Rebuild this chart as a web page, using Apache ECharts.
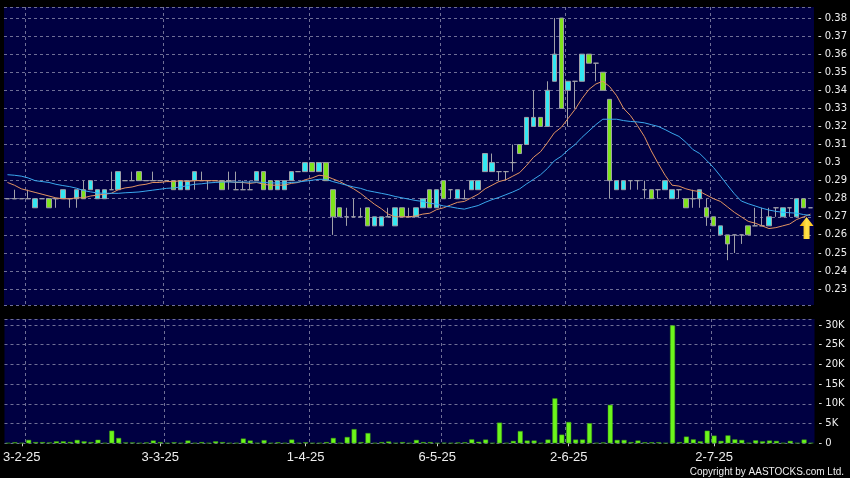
<!DOCTYPE html>
<html><head><meta charset="utf-8">
<script src="https://cdn.jsdelivr.net/npm/echarts@6/dist/echarts.min.js"></script>
<style>html,body{margin:0;padding:0;background:#000;}#c{width:850px;height:478px;}</style>
</head><body><div id="c"></div>
<script>
const categories = [
'27-1-25','28-1-25',
'3-2-25','4-2-25','5-2-25','6-2-25','7-2-25','10-2-25','11-2-25','12-2-25','13-2-25','14-2-25','17-2-25','18-2-25','19-2-25','20-2-25','21-2-25','24-2-25','25-2-25','26-2-25','27-2-25','28-2-25',
'3-3-25','4-3-25','5-3-25','6-3-25','7-3-25','10-3-25','11-3-25','12-3-25','13-3-25','14-3-25','17-3-25','18-3-25','19-3-25','20-3-25','21-3-25','24-3-25','25-3-25','26-3-25','27-3-25','28-3-25','31-3-25',
'1-4-25','2-4-25','3-4-25','7-4-25','8-4-25','9-4-25','10-4-25','11-4-25','14-4-25','15-4-25','16-4-25','17-4-25','22-4-25','23-4-25','24-4-25','25-4-25','28-4-25','29-4-25','30-4-25',
'6-5-25','7-5-25','8-5-25','9-5-25','12-5-25','13-5-25','14-5-25','15-5-25','16-5-25','19-5-25','20-5-25','21-5-25','22-5-25','23-5-25','26-5-25','27-5-25','28-5-25','29-5-25','30-5-25',
'2-6-25','3-6-25','4-6-25','5-6-25','6-6-25','9-6-25','10-6-25','11-6-25','12-6-25','13-6-25','16-6-25','17-6-25','18-6-25','19-6-25','20-6-25','23-6-25','24-6-25','25-6-25','26-6-25','27-6-25','30-6-25',
'2-7-25','3-7-25','4-7-25','7-7-25','8-7-25','9-7-25','10-7-25','11-7-25','14-7-25','15-7-25','16-7-25','17-7-25','18-7-25','21-7-25','22-7-25'
];
const opens = [
.28,.28,.28,.28,.275,.28,.28,.28,.28,.28,
.28,.285,.285,.28,.28,.285,.285,.29,.29,.295,
.29,.29,.29,.29,.29,.285,.285,.29,.29,.29,
.29,.29,.29,.285,.285,.285,.29,.295,.29,.285,
.285,.29,.295,.295,.30,.295,.30,.285,.275,.27,
.27,.27,.275,.265,.265,.27,.265,.275,.27,.27,
.275,.285,.275,.29,.285,.28,.28,.285,.285,.295,
.295,.295,.295,.30,.31,.31,.32,.325,.32,.345,
.38,.34,.345,.345,.36,.355,.35,.335,.285,.285,
.29,.29,.285,.285,.285,.285,.28,.285,.28,.28,
.28,.275,.27,.26,.26,.26,.26,.265,.265,.265,
.265,.275,.27,.275,.27,.28,.275];
const closes = [
.28,.28,.28,.28,.28,.28,.275,.28,.285,.28,
.285,.28,.29,.285,.285,.285,.295,.29,.29,.29,
.29,.29,.29,.29,.285,.29,.29,.295,.29,.29,
.29,.285,.29,.285,.285,.285,.295,.285,.285,.29,
.29,.295,.295,.30,.295,.30,.29,.27,.27,.27,
.27,.27,.265,.27,.27,.27,.275,.27,.27,.275,
.28,.275,.285,.28,.285,.285,.28,.29,.29,.305,
.30,.295,.295,.30,.305,.325,.325,.32,.34,.36,
.33,.345,.345,.36,.355,.355,.34,.29,.29,.29,
.29,.29,.285,.28,.285,.29,.285,.285,.275,.28,
.285,.27,.265,.265,.255,.26,.26,.26,.265,.265,
.27,.275,.275,.275,.28,.275,.275];
const lows = [
.28,.28,.28,.28,.275,.28,.275,.275,.28,.275,
.275,.28,.285,.28,.28,.285,.285,.29,.29,.29,
.29,.29,.29,.29,.285,.285,.285,.285,.29,.285,
.29,.285,.285,.285,.285,.285,.29,.285,.285,.285,
.285,.29,.295,.295,.295,.295,.29,.26,.27,.265,
.27,.27,.265,.265,.265,.27,.265,.27,.27,.27,
.275,.275,.275,.28,.28,.28,.28,.285,.285,.295,
.295,.29,.29,.295,.305,.31,.32,.32,.32,.345,
.33,.32,.33,.345,.355,.345,.34,.28,.285,.285,
.285,.285,.28,.28,.28,.285,.28,.28,.275,.275,
.275,.265,.265,.26,.246,.25,.255,.26,.265,.265,
.265,.27,.27,.27,.27,.275,.275];
const highs = [
.28,.285,.28,.285,.28,.28,.28,.28,.285,.28,
.285,.29,.29,.285,.285,.295,.295,.29,.295,.295,
.29,.295,.29,.29,.29,.29,.29,.295,.295,.29,
.29,.29,.295,.295,.29,.29,.295,.295,.29,.29,
.29,.295,.295,.30,.30,.30,.30,.285,.275,.275,
.28,.275,.275,.27,.27,.275,.275,.275,.275,.275,
.28,.285,.285,.29,.285,.285,.285,.29,.29,.305,
.305,.295,.295,.31,.31,.325,.34,.325,.345,.38,
.38,.345,.345,.36,.36,.355,.35,.335,.29,.29,
.29,.29,.29,.285,.285,.29,.285,.285,.28,.285,
.285,.28,.27,.265,.26,.26,.26,.265,.275,.275,
.275,.275,.275,.275,.28,.28,.275];
const volumes = [
100,250,100,850,300,300,200,500,500,350,
850,500,300,900,100,3200,1350,200,200,100,
200,700,300,100,250,100,700,100,300,100,
500,300,100,100,1200,700,100,800,100,250,
100,950,100,250,100,100,300,1350,100,1600,
3600,300,2600,100,300,450,100,300,100,850,
300,300,100,150,100,200,250,1000,400,950,
100,5250,100,600,3100,700,700,100,950,11400,
2200,5400,950,950,5100,100,200,9750,850,850,
300,700,250,250,250,100,29900,300,1700,1000,
500,3200,1950,600,2000,1000,850,100,750,500,
700,600,100,600,100,950,100];
const ma10 = [
.289,.2875,.2855,.2845,.2835,.2825,.2815,.2805,.28,.28,
.2805,.2805,.2815,.282,.2825,.283,.285,.286,.2865,.2875,
.288,.289,.289,.2895,.2895,.29,.2895,.29,.29,.29,
.29,.2895,.2895,.289,.289,.2885,.289,.288,.2875,.2875,
.2875,.2885,.289,.2905,.2915,.293,.2925,.291,.2895,.2875,
.2855,.283,.28,.277,.2745,.2715,.27,.27,.27,.2705,
.2715,.272,.274,.275,.2765,.278,.2785,.2805,.2825,.2855,
.2875,.2895,.2905,.2925,.2945,.2985,.303,.306,.311,.3165,
.3195,.3245,.3295,.3355,.3405,.3435,.345,.342,.337,.33,
.326,.3205,.3145,.3065,.2995,.293,.2875,.287,.2855,.2845,
.284,.282,.28,.2785,.2755,.2725,.27,.2675,.2665,.265,
.2635,.264,.265,.266,.2685,.27,.2715];
const ma20 = [
.2933,.293,.2925,.2915,.29,.2895,.289,.288,.2873,.2867,
.2858,.2845,.2838,.2832,.283,.283,.283,.2833,.2835,.28375,
.28425,.28475,.28525,.28575,.286,.2865,.28725,.288,.28825,.28875,
.289,.28925,.28925,.28925,.28925,.28925,.28925,.289,.28875,.28875,
.28875,.289,.28925,.28975,.29025,.29075,.29075,.2895,.2885,.2875,
.2865,.28575,.2845,.28375,.283,.28225,.28125,.2805,.27975,.279,
.2785,.2775,.277,.276,.2755,.27475,.27425,.27525,.27625,.278,
.2795,.28075,.28225,.28375,.2855,.28825,.29075,.29325,.29675,.301,
.3035,.307,.31,.314,.3175,.321,.324,.324,.324,.32325,
.32275,.3225,.322,.321,.32,.31825,.31625,.3145,.31125,.30725,
.305,.30125,.29725,.2925,.2875,.28275,.27875,.27725,.276,.27475,
.27375,.273,.2725,.27225,.272,.27125,.27075];
const labelDates = ['3-2-25','3-3-25','1-4-25','6-5-25','2-6-25','2-7-25'];
const vGridDates = ['4-2-25','4-3-25','2-4-25','7-5-25','2-6-25','2-7-25'];
const arrowDate = '21-7-25';
const arrowPrice = 0.2638;

const BG = '#000042';
const GRIDC = '#6f6f96';
const TXT = '#eeeeee';
const labelIdx = new Set(labelDates.map(d => categories.indexOf(d)));
const ohlc = categories.map((_, i) => [opens[i], closes[i], lows[i], highs[i]]);

const chart = echarts.init(document.getElementById('c'), null, {renderer: 'canvas'});
const hSplit = {show: true, lineStyle: {color: GRIDC, type: [3, 3], width: 1}};
const fmtP = v => '- ' + parseFloat(v.toFixed(2));

function vGridSeries(gi) {
  return {
    type: 'custom', xAxisIndex: gi, yAxisIndex: gi, silent: true, z: 1,
    data: vGridDates.map(d => [d, 0]),
    renderItem: (params, api) => {
      const cs = params.coordSys;
      const x = Math.round(api.coord([api.value(0), 0])[0] - api.size([1, 0])[0] / 2) + 0.5;
      return {type: 'line', shape: {x1: x, y1: cs.y, x2: x, y2: cs.y + cs.height},
              style: {stroke: GRIDC, lineWidth: 1, lineDash: [3, 3]}};
    }
  };
}

chart.setOption({
  backgroundColor: '#000',
  animation: false,
  grid: [
    {left: 4, right: 35.5, top: 7, height: 298, show: true, backgroundColor: BG, borderWidth: 0},
    {left: 4, right: 35.5, top: 319, height: 124.3, show: true, backgroundColor: BG, borderWidth: 0}
  ],
  xAxis: [
    {type: 'category', gridIndex: 0, data: categories, boundaryGap: true,
     axisLine: {show: false}, axisTick: {show: false}, axisLabel: {show: false}, splitLine: {show: false}},
    {type: 'category', gridIndex: 1, data: categories, boundaryGap: true, offset: 3,
     axisLine: {show: false},
     axisTick: {show: true, alignWithLabel: true, interval: (i) => labelIdx.has(i), length: 3, lineStyle: {color: '#cccccc'}},
     axisLabel: {interval: (i) => labelIdx.has(i), color: TXT, fontFamily: 'Liberation Sans', fontSize: 13, margin: 5},
     splitLine: {show: false}}
  ],
  yAxis: [
    {type: 'value', gridIndex: 0, position: 'right', min: 0.2212, max: 0.3861, splitNumber: 16,
     axisLine: {show: false}, axisTick: {show: false},
     axisLabel: {formatter: fmtP, showMinLabel: false, showMaxLabel: false, margin: 4, color: TXT, fontFamily: 'DejaVu Sans', fontSize: 10},
     splitLine: hSplit},
    {type: 'value', gridIndex: 1, position: 'right', min: 0, max: 31520, splitNumber: 6,
     axisLine: {show: false}, axisTick: {show: false},
     axisLabel: {formatter: v => v === 0 ? '- 0' : '- ' + (v / 1000) + 'K', showMaxLabel: false, margin: 4, color: TXT, fontFamily: 'DejaVu Sans', fontSize: 10},
     splitLine: hSplit}
  ],
  series: [
    vGridSeries(0),
    vGridSeries(1),
    {type: 'candlestick', xAxisIndex: 0, yAxisIndex: 0, data: ohlc, barWidth: 5, z: 2,
     itemStyle: {color: '#33e8f2', color0: '#7fe31c', borderColor: '#a0a0a8', borderColor0: '#a0a0a8', borderColorDoji: '#a0a0a8', borderWidth: 1},
     markPoint: {
       silent: true,
       data: [{coord: [arrowDate, arrowPrice],
               symbol: 'path://M7,0 L14,9 L10,9 L10,22 L4,22 L4,9 L0,9 Z',
               symbolSize: [14, 22], symbolOffset: [3, 0],
               itemStyle: {color: new echarts.graphic.LinearGradient(0, 0, 1, 0, [{offset: 0, color: '#f0a400'}, {offset: 0.5, color: '#ffe24a'}, {offset: 1, color: '#ffc21a'}])},
               label: {show: false}}]
     }},
    {type: 'line', xAxisIndex: 0, yAxisIndex: 0, data: ma10, symbol: 'none', z: 3, lineStyle: {color: '#e39462', width: 1}},
    {type: 'line', xAxisIndex: 0, yAxisIndex: 0, data: ma20, symbol: 'none', z: 3, lineStyle: {color: '#3aa8ee', width: 1}},
    {type: 'bar', xAxisIndex: 1, yAxisIndex: 1, data: volumes, barWidth: 5, z: 2,
     itemStyle: {color: '#6cf51c', borderColor: '#3a9a10', borderWidth: 0.5}}
  ],
  graphic: [
    {type: 'text', right: 6, bottom: 1, style: {text: 'Copyright by AASTOCKS.com Ltd.', fill: TXT, font: '10px "Liberation Sans"'}}
  ]
});
</script>
</body></html>
